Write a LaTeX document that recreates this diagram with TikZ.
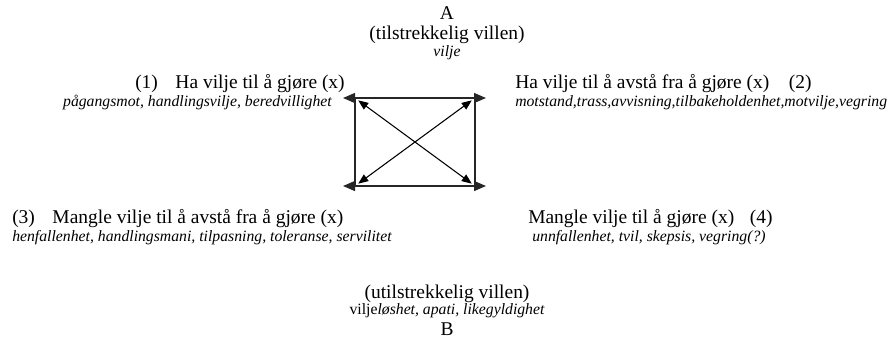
\documentclass[tikz,border=0pt]{standalone}
\usepackage{fontspec}
\setmainfont{Liberation Serif}
\usetikzlibrary{arrows.meta}
\begin{document}
\begin{tikzpicture}[x=0.75pt,y=-0.75pt,
  main/.style={inner sep=0pt,font=\fontsize{14.6}{16}\selectfont},
  note/.style={inner sep=0pt,font=\fontsize{11.8}{13}\selectfont\itshape},
  edge/.style={line width=1pt,color=black!85},
  link/.style={edge,{Triangle[length=9pt,width=7.5pt]}-{Triangle[length=9pt,width=7.5pt]}},
  cross/.style={line width=0.8pt,{Triangle[length=7.5pt,width=6pt]}-{Triangle[length=7.5pt,width=6pt]}}]
\useasboundingbox (0,0) rectangle (893,347);

% top pole
\node[main,anchor=base] (A) at (447,19) {A};
\node[main,anchor=base] (tv) at (447,39) {(tilstrekkelig villen)};
\node[note,anchor=base] (tvn) at (447,56) {vilje};

% four positions
\node[main,anchor=base west] (p1) at (135,88) {(1)\hspace{0.9em}Ha vilje til å gjøre (x)};
\node[note,anchor=base east] (n1) at (332,106) {pågangsmot, handlingsvilje, beredvillighet};
\node[main,anchor=base west] (p2) at (515,88) {Ha vilje til å avstå fra å gjøre (x)\hspace{1em}(2)};
\node[note,anchor=base west] (n2) at (515,106) {motstand,trass,avvisning,tilbakeholdenhet,motvilje,vegring};
\node[main,anchor=base west] (p3) at (12,223) {(3)\hspace{0.9em}Mangle vilje til å avstå fra å gjøre (x)};
\node[note,anchor=base west] (n3) at (12,241) {henfallenhet, handlingsmani, tilpasning, toleranse, servilitet};
\node[main,anchor=base west] (p4) at (528,223) {Mangle vilje til å gjøre (x)\hspace{0.8em}(4)};
\node[note,anchor=base west] (n4) at (532,241) {unnfallenhet, tvil, skepsis, vegring(?)};

% bottom pole
\node[main,anchor=base] (uv) at (447,298) {(utilstrekkelig villen)};
\node[note,anchor=base] (uvn) at (447,314) {\upshape vilje\itshape løshet, apati, likegyldighet};
\node[main,anchor=base] (B) at (447,335) {B};

% square of relations
\coordinate (c1) at (355,98);
\coordinate (c2) at (475,98);
\coordinate (c3) at (355,186);
\coordinate (c4) at (475,186);
\coordinate (e1) at (343,98);
\coordinate (e2) at (486,98);
\coordinate (e3) at (343,186);
\coordinate (e4) at (486,186);

\draw[link] (e1) -- (e2);
\draw[link] (e3) -- (e4);
\draw[edge] (c1) -- (c3);
\draw[edge] (c2) -- (c4);
\draw[cross,shorten <=3pt,shorten >=3pt] (c1) -- (c4);
\draw[cross,shorten <=3pt,shorten >=3pt] (c2) -- (c3);
\end{tikzpicture}
\end{document}
